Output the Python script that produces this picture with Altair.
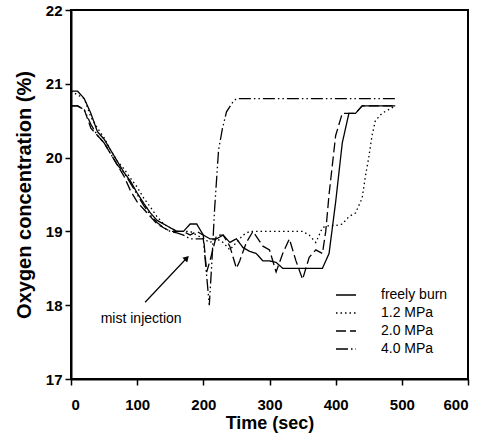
import altair as alt
import pandas as pd

FONT = "Liberation Sans"

# ---------------- data ----------------
series_names = ["freely burn", "1.2 MPa", "2.0 MPa", "4.0 MPa"]

t_free = [0, 10, 20, 30, 40, 50, 60, 70, 80, 90, 100, 110, 120, 130, 140, 150, 160, 170,
          180, 190, 200, 210, 220, 230, 240, 250, 260, 270, 280, 290, 300, 310, 320, 330,
          340, 350, 360, 370, 380, 390, 400, 410, 420, 430, 440, 450, 460, 470, 480, 490]
v_free = [20.9, 20.9, 20.8, 20.6, 20.35, 20.25, 20.1, 19.95, 19.8, 19.68, 19.52, 19.38, 19.25,
          19.15, 19.1, 19.05, 19.0, 19.0, 19.1, 19.1, 18.95, 18.9, 18.9, 18.95, 18.85, 18.9,
          18.78, 18.73, 18.7, 18.6, 18.6, 18.58, 18.5, 18.5, 18.5, 18.5, 18.5, 18.5, 18.5,
          18.7, 19.4, 20.2, 20.6, 20.6, 20.7, 20.7, 20.7, 20.7, 20.7, 20.7]

t_12 = [0, 10, 20, 30, 40, 50, 60, 70, 80, 90, 100, 110, 120, 130, 140, 150, 160, 170, 180,
        190, 200, 210, 220, 230, 240, 250, 260, 270, 280, 290, 300, 310, 320, 330, 340, 350,
        360, 370, 380, 390, 400, 410, 420, 430, 440, 445, 450, 455, 460, 470, 480, 490]
v_12 = [20.9, 20.85, 20.8, 20.55, 20.4, 20.27, 20.1, 19.95, 19.85, 19.72, 19.6, 19.45, 19.33,
        19.2, 19.1, 19.05, 19.0, 19.0, 19.0, 18.95, 18.9, 18.85, 18.9, 18.85, 18.75, 18.85,
        18.95, 19.0, 19.0, 19.0, 19.0, 19.0, 19.0, 19.0, 19.0, 19.0, 18.95, 18.85, 19.05,
        19.08, 19.08, 19.1, 19.2, 19.25, 19.45, 19.75, 20.0, 20.3, 20.5, 20.6, 20.65, 20.7]

t_20 = [0, 10, 20, 30, 40, 50, 60, 70, 80, 90, 100, 110, 120, 130, 140, 150, 160, 170, 180,
        190, 200, 205, 210, 220, 230, 240, 250, 255, 265, 275, 290, 300, 310, 320, 330, 340,
        350, 360, 370, 380, 385, 390, 400, 410, 420, 430, 440, 450, 460, 470, 480, 490]
v_20 = [20.7, 20.7, 20.65, 20.4, 20.3, 20.2, 20.05, 19.9, 19.75, 19.55, 19.4, 19.3, 19.2,
        19.1, 19.05, 19.0, 19.0, 19.0, 18.95, 19.0, 18.95, 18.45, 18.6, 18.95, 18.95, 18.8,
        18.5, 18.6, 18.85, 19.0, 18.8, 18.75, 18.45, 18.7, 18.9, 18.6, 18.35, 18.65, 18.75,
        18.7, 19.0, 19.5, 20.3, 20.6, 20.6, 20.6, 20.7, 20.7, 20.7, 20.7, 20.7, 20.7]

t_40 = [0, 10, 20, 30, 40, 50, 60, 70, 80, 90, 100, 110, 120, 130, 140, 150, 160, 170, 180,
        190, 200, 205, 209, 213, 217, 223, 229, 235, 245, 250, 300, 350, 400, 450, 490]
v_40 = [20.7, 20.7, 20.65, 20.45, 20.3, 20.2, 20.05, 19.9, 19.8, 19.65, 19.5, 19.35, 19.22,
        19.12, 19.05, 19.0, 18.98, 18.95, 18.9, 18.9, 18.9, 18.4, 18.0, 18.6, 19.3, 20.1,
        20.4, 20.62, 20.76, 20.8, 20.8, 20.8, 20.8, 20.8, 20.8]

x_ticks = [0, 100, 200, 300, 400, 500, 600]
y_ticks = [17, 18, 19, 20, 21, 22]

annot_text = ["mist injection"]
annot_t = [106]
annot_v = [17.81]
arrow_t0, arrow_v0 = [112], [18.04]
arrow_t1, arrow_v1 = [175], [18.64]

# ---------------- tables ----------------
rows = []
for name, ts, vs in [(series_names[0], t_free, v_free), (series_names[1], t_12, v_12),
                     (series_names[2], t_20, v_20), (series_names[3], t_40, v_40)]:
    for i, (t, v) in enumerate(zip(ts, vs)):
        rows.append({"series": name, "t": t, "v": v, "i": i})
df = pd.DataFrame(rows)

x_scale = alt.Scale(domain=[0, 600], nice=False, zero=False)
y_scale = alt.Scale(domain=[17, 22], nice=False, zero=False)

lines = alt.Chart(df).mark_line(color="black", strokeWidth=1.3).encode(
    x=alt.X("t:Q", scale=x_scale,
            axis=alt.Axis(values=x_ticks, title="Time (sec)", format="d",
                          labelPadding=12, titleFontSize=18, titlePadding=2)),
    y=alt.Y("v:Q", scale=y_scale,
            axis=alt.Axis(values=y_ticks, title="Oxygen concentration (%)", format="d",
                          labelPadding=3, titleFontSize=20, titlePadding=11)),
    order="i:Q",
    strokeDash=alt.StrokeDash(
        "series:N",
        scale=alt.Scale(domain=series_names,
                        range=[[1, 0], [1.5, 3], [10, 4], [12, 3, 1.5, 3, 1.5, 3]]),
        legend=alt.Legend(title=None, orient="none", legendX=264, legendY=274,
                          symbolType="stroke", symbolSize=400, symbolStrokeWidth=1.3,
                          symbolStrokeColor="black", labelFontSize=14, labelFont=FONT,
                          labelColor="black", rowPadding=0, labelOffset=24, padding=0),
    ),
)

txt = alt.Chart(pd.DataFrame({"t": annot_t, "v": annot_v, "s": annot_text})).mark_text(
    font=FONT, fontSize=14, color="black", align="center", baseline="middle"
).encode(x=alt.X("t:Q", scale=x_scale), y=alt.Y("v:Q", scale=y_scale), text="s:N")

arr_df = pd.DataFrame({"t0": arrow_t0, "v0": arrow_v0, "t1": arrow_t1, "v1": arrow_v1})
arrow_line = alt.Chart(arr_df).mark_rule(color="black", strokeWidth=1.2).encode(
    x=alt.X("t0:Q", scale=x_scale), y=alt.Y("v0:Q", scale=y_scale),
    x2="t1:Q", y2="v1:Q")
arrow_head = alt.Chart(arr_df).mark_point(
    shape="triangle-up", filled=True, color="black", size=45, angle=44, opacity=1
).encode(x=alt.X("t1:Q", scale=x_scale), y=alt.Y("v1:Q", scale=y_scale))

chart = alt.layer(lines, arrow_line, arrow_head, txt).properties(
    width=397, height=369,
    autosize=alt.AutoSizeParams(type="none"),
    padding={"left": 71, "top": 10, "right": 14, "bottom": 65},
).configure_view(
    stroke="black", strokeWidth=2
).configure_axis(
    grid=False, domainColor="black", domainWidth=2, tickColor="black", tickSize=6,
    tickWidth=1.5, labelFont=FONT, labelFontSize=15, labelFontWeight="bold",
    labelColor="black", titleFont=FONT, titleFontWeight="bold",
    titleColor="black",
)

chart.save("out.html", embed_options={"renderer": "svg", "actions": False})
